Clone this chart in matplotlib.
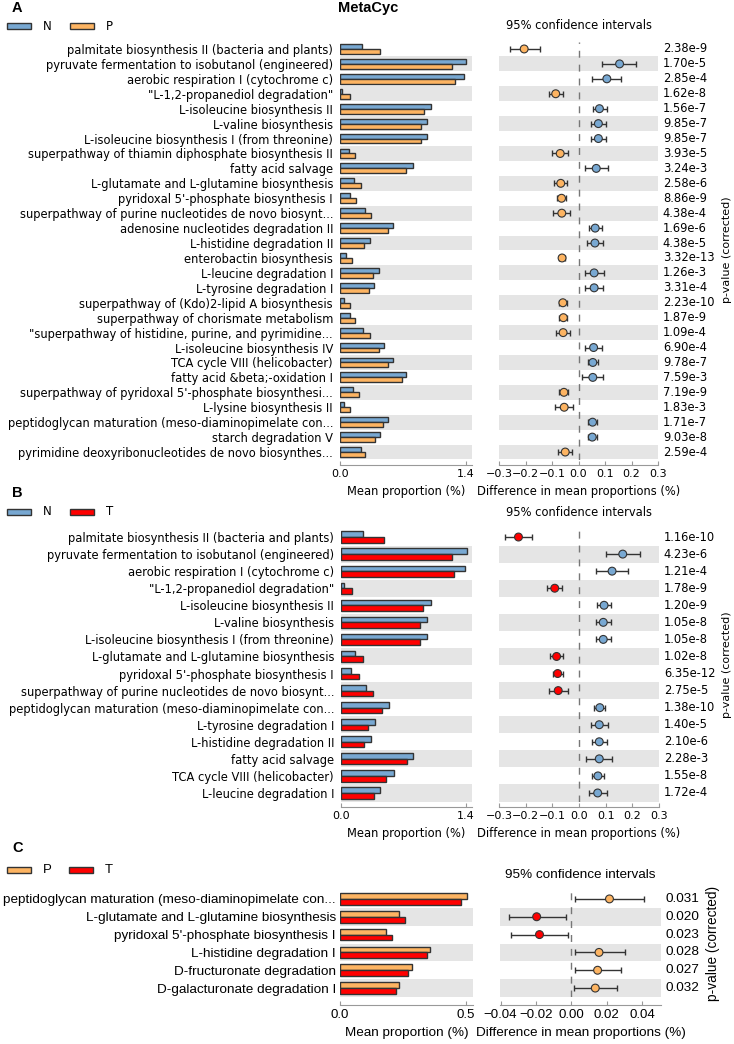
import numpy as np
import matplotlib
matplotlib.use('Agg')
import matplotlib.pyplot as plt
from matplotlib.patches import Rectangle

W, H = 734, 1044

blue = '#78a8d2'
orange = '#fdb462'
red = '#ff0000'
band = '#e5e5e5'
edge = '#333333'

# ---- panel A : N vs P ----
labelsA = ['palmitate biosynthesis II (bacteria and plants)',
           'pyruvate fermentation to isobutanol (engineered)',
           'aerobic respiration I (cytochrome c)',
           '"L-1,2-propanediol degradation"',
           'L-isoleucine biosynthesis II',
           'L-valine biosynthesis',
           'L-isoleucine biosynthesis I (from threonine)',
           'superpathway of thiamin diphosphate biosynthesis II',
           'fatty acid salvage',
           'L-glutamate and L-glutamine biosynthesis',
           "pyridoxal 5'-phosphate biosynthesis I",
           'superpathway of purine nucleotides de novo biosynt...',
           'adenosine nucleotides degradation II',
           'L-histidine degradation II',
           'enterobactin biosynthesis',
           'L-leucine degradation I',
           'L-tyrosine degradation I',
           'superpathway of (Kdo)2-lipid A biosynthesis',
           'superpathway of chorismate metabolism',
           '"superpathway of histidine, purine, and pyrimidine...',
           'L-isoleucine biosynthesis IV',
           'TCA cycle VIII (helicobacter)',
           'fatty acid &beta;-oxidation I',
           "superpathway of pyridoxal 5'-phosphate biosynthesi...",
           'L-lysine biosynthesis II',
           'peptidoglycan maturation (meso-diaminopimelate con...',
           'starch degradation V',
           'pyrimidine deoxyribonucleotides de novo biosynthes...']
nA = [0.25, 1.40, 1.38, 0.026, 1.01, 0.97, 0.97, 0.10, 0.81, 0.16, 0.11, 0.28, 0.59, 0.33,
      0.07, 0.43, 0.38, 0.05, 0.11, 0.26, 0.49, 0.59, 0.74, 0.15, 0.05, 0.53, 0.44, 0.23]
pA = [0.45, 1.25, 1.28, 0.11, 0.93, 0.90, 0.90, 0.17, 0.74, 0.23, 0.18, 0.34, 0.53, 0.27,
      0.13, 0.37, 0.32, 0.11, 0.17, 0.33, 0.43, 0.53, 0.69, 0.21, 0.11, 0.48, 0.39, 0.28]
diffA = [-0.205, 0.155, 0.107, -0.086, 0.079, 0.075, 0.075, -0.069, 0.067, -0.067, -0.064, -0.063,
         0.063, 0.062, -0.062, 0.059, 0.059, -0.059, -0.057, -0.058, 0.057, 0.054, 0.054, -0.055,
         -0.054, 0.053, 0.052, -0.050]
loA = [-0.260, 0.088, 0.050, -0.111, 0.053, 0.048, 0.048, -0.099, 0.023, -0.092, -0.082, -0.098,
       0.039, 0.033, -0.073, 0.023, 0.026, -0.075, -0.073, -0.084, 0.023, 0.034, 0.014, -0.072,
       -0.088, 0.035, 0.035, -0.077]
hiA = [-0.147, 0.218, 0.162, -0.059, 0.106, 0.103, 0.103, -0.038, 0.112, -0.042, -0.047, -0.031,
       0.087, 0.091, -0.050, 0.096, 0.091, -0.043, -0.042, -0.031, 0.089, 0.075, 0.094, -0.038,
       -0.020, 0.070, 0.069, -0.025]
pvA = ['2.38e-9', '1.70e-5', '2.85e-4', '1.62e-8', '1.56e-7', '9.85e-7', '9.85e-7', '3.93e-5',
       '3.24e-3', '2.58e-6', '8.86e-9', '4.38e-4', '1.69e-6', '4.38e-5', '3.32e-13', '1.26e-3',
       '3.31e-4', '2.23e-10', '1.87e-9', '1.09e-4', '6.90e-4', '9.78e-7', '7.59e-3', '7.19e-9',
       '1.83e-3', '1.71e-7', '9.03e-8', '2.59e-4']

# ---- panel B : N vs T ----
labelsB = ['palmitate biosynthesis II (bacteria and plants)',
           'pyruvate fermentation to isobutanol (engineered)',
           'aerobic respiration I (cytochrome c)',
           '"L-1,2-propanediol degradation"',
           'L-isoleucine biosynthesis II',
           'L-valine biosynthesis',
           'L-isoleucine biosynthesis I (from threonine)',
           'L-glutamate and L-glutamine biosynthesis',
           "pyridoxal 5'-phosphate biosynthesis I",
           'superpathway of purine nucleotides de novo biosynt...',
           'peptidoglycan maturation (meso-diaminopimelate con...',
           'L-tyrosine degradation I',
           'L-histidine degradation II',
           'fatty acid salvage',
           'TCA cycle VIII (helicobacter)',
           'L-leucine degradation I']
nB = [0.25, 1.41, 1.39, 0.03, 1.01, 0.97, 0.97, 0.16, 0.11, 0.28, 0.54, 0.38, 0.34, 0.81, 0.59, 0.44]
tB = [0.48, 1.24, 1.27, 0.12, 0.92, 0.89, 0.89, 0.25, 0.20, 0.36, 0.46, 0.30, 0.26, 0.74, 0.51, 0.37]
diffB = [-0.227, 0.164, 0.124, -0.091, 0.094, 0.091, 0.091, -0.084, -0.080, -0.078, 0.078, 0.076,
         0.076, 0.076, 0.071, 0.070]
loB = [-0.278, 0.100, 0.063, -0.119, 0.068, 0.064, 0.064, -0.109, -0.098, -0.112, 0.055, 0.044,
       0.048, 0.028, 0.049, 0.036]
hiB = [-0.177, 0.229, 0.184, -0.065, 0.120, 0.119, 0.119, -0.059, -0.061, -0.043, 0.098, 0.108,
       0.104, 0.124, 0.095, 0.105]
pvB = ['1.16e-10', '4.23e-6', '1.21e-4', '1.78e-9', '1.20e-9', '1.05e-8', '1.05e-8', '1.02e-8',
       '6.35e-12', '2.75e-5', '1.38e-10', '1.40e-5', '2.10e-6', '2.28e-3', '1.55e-8', '1.72e-4']

# ---- panel C : P vs T ----
labelsC = ['peptidoglycan maturation (meso-diaminopimelate con...',
           'L-glutamate and L-glutamine biosynthesis',
           "pyridoxal 5'-phosphate biosynthesis I",
           'L-histidine degradation I',
           'D-fructuronate degradation',
           'D-galacturonate degradation I']
pC = [0.504, 0.235, 0.183, 0.356, 0.285, 0.235]
tC = [0.481, 0.256, 0.205, 0.343, 0.270, 0.220]
diffC = [0.0215, -0.0196, -0.0180, 0.0156, 0.0148, 0.0135]
loC = [0.0020, -0.0355, -0.0342, 0.0019, 0.0019, 0.0016]
hiC = [0.0408, -0.0032, -0.0020, 0.0302, 0.0281, 0.0260]
pvC = ['0.031', '0.020', '0.023', '0.028', '0.027', '0.032']

fig = plt.figure(figsize=(W / 100, H / 100), dpi=100)


def px_axes(x0, y0, x1, y1):
    # axes from pixel box (top-left origin)
    return fig.add_axes([x0 / W, 1 - y1 / H, (x1 - x0) / W, (y1 - y0) / H])


def style_axis(ax, font, fs, offset):
    for s in ['top', 'right', 'left']:
        ax.spines[s].set_visible(False)
    ax.spines['bottom'].set_color('#999999')
    ax.spines['bottom'].set_position(('outward', offset))
    ax.tick_params(axis='x', direction='in', length=3, color='#999999', labelsize=fs, pad=3)
    for t in ax.get_xticklabels():
        t.set_family(font)


def panel(labels, g1, g2, diff, lo, hi, pv, c1, c2, box_bar, box_ci, xmax, xticks,
          cilim, citicks, font='DejaVu Sans', fs=8.3, tfs=8, offset=4, ypad=5):
    n = len(labels)
    y = np.arange(n)
    g1 = np.array(g1)
    g2 = np.array(g2)
    diff = np.array(diff)
    lo = np.array(lo)
    hi = np.array(hi)

    ax1 = px_axes(*box_bar)
    ax2 = px_axes(*box_ci)
    for ax in (ax1, ax2):
        for i in range(1, n, 2):
            ax.axhspan(i - 0.5, i + 0.5, color=band, lw=0, zorder=0)
        ax.set_ylim(n - 0.5, -0.5)

    # mean proportion bars
    h = 0.33
    ax1.barh(y - h / 2, g1, height=h, color=c1, edgecolor=edge, lw=1, zorder=2)
    ax1.barh(y + h / 2, g2, height=h, color=c2, edgecolor=edge, lw=1, zorder=2)
    ax1.set_xlim(0, xmax)
    ax1.set_xticks(xticks)
    ax1.set_xticklabels(['%.1f' % v for v in xticks])
    ax1.set_yticks(y)
    ax1.set_yticklabels(labels, fontsize=fs, family=font)
    ax1.tick_params(axis='y', length=0, pad=ypad)
    ax1.set_xlabel('Mean proportion (%)', fontsize=fs, family=font, labelpad=4)
    style_axis(ax1, font, tfs, offset)

    # difference with 95% CI
    ax2.axvline(0, color='#777777', lw=1, ls=(0, (5, 5)), zorder=1)
    ax2.errorbar(diff, y, xerr=[diff - lo, hi - diff], fmt='none', ecolor=edge,
                 elinewidth=1, capsize=2.5, capthick=1, zorder=2)
    cols = [c1 if d > 0 else c2 for d in diff]
    ax2.scatter(diff, y, s=32, c=cols, edgecolors=edge, linewidths=0.8, zorder=3)
    ax2.set_xlim(*cilim)
    ax2.set_xticks(citicks)
    ax2.set_yticks([])
    ax2.set_xlabel('Difference in mean proportions (%)', fontsize=fs, family=font, labelpad=4)
    ax2.set_title('95% confidence intervals', fontsize=fs, family=font, pad=9)
    style_axis(ax2, font, tfs, offset)

    for yi, p in zip(y, pv):
        ax2.text(1.03, yi, p, transform=ax2.get_yaxis_transform(), fontsize=fs, family=font,
                 va='center', ha='left')
    return ax1, ax2


def legend(y, c1, c2, l1, l2, fs=8.5, font='DejaVu Sans', dx=63):
    for k, (c, l) in enumerate([(c1, l1), (c2, l2)]):
        x = 7 + k * dx
        fig.add_artist(Rectangle((x / W, 1 - (y + 3) / H), 24 / W, 6 / H, transform=fig.transFigure,
                                 facecolor=c, edgecolor=edge, lw=1))
        fig.text((x + 36) / W, 1 - y / H, l, fontsize=fs, family=font, va='center')


# panel A
panel(labelsA, nA, pA, diffA, loA, hiA, pvA, blue, orange,
      (340, 41.5, 472, 459.5), (499, 41.5, 658, 459.5), 1.47, [0.0, 1.4],
      (-0.3, 0.3), [-0.3, -0.2, -0.1, 0.0, 0.1, 0.2, 0.3])
fig.text(12 / W, 1 - 8 / H, 'A', fontsize=10.5, weight='bold', family='Liberation Sans', va='center')
fig.text(368 / W, 1 - 8 / H, 'MetaCyc', fontsize=10.5, weight='bold', family='Liberation Sans',
         ha='center', va='center')
legend(26, blue, orange, 'N', 'P')
fig.text(727 / W, 1 - 250 / H, 'p-value (corrected)', fontsize=8, rotation=90, ha='center', va='center')

# panel B
panel(labelsB, nB, tB, diffB, loB, hiB, pvB, blue, red,
      (341, 528.5, 472, 801.5), (499, 528.5, 659, 801.5), 1.47, [0.0, 1.4],
      (-0.3, 0.3), [-0.3, -0.2, -0.1, 0.0, 0.1, 0.2, 0.3])
fig.text(12 / W, 1 - 493 / H, 'B', fontsize=10.5, weight='bold', family='Liberation Sans', va='center')
legend(512, blue, red, 'N', 'T')
fig.text(727 / W, 1 - 665 / H, 'p-value (corrected)', fontsize=8, rotation=90, ha='center', va='center')

# panel C
panel(labelsC, pC, tC, diffC, loC, hiC, pvC, orange, red,
      (340, 890, 473, 997), (500, 890, 661, 997), 0.527, [0.0, 0.5],
      (-0.0403, 0.0506), [-0.04, -0.02, 0.0, 0.02, 0.04],
      font='Liberation Sans', fs=9.7, tfs=9.5, offset=6, ypad=3)
fig.text(12 / W, 1 - 848 / H, 'C', fontsize=10.5, weight='bold', family='Liberation Sans', va='center')
legend(870, orange, red, 'P', 'T', fs=9.5, font='Liberation Sans', dx=62)
fig.text(713 / W, 1 - 943 / H, 'p-value (corrected)', fontsize=9.8, family='Liberation Sans',
         rotation=90, ha='center', va='center')

fig.savefig('out.png', dpi=100)
